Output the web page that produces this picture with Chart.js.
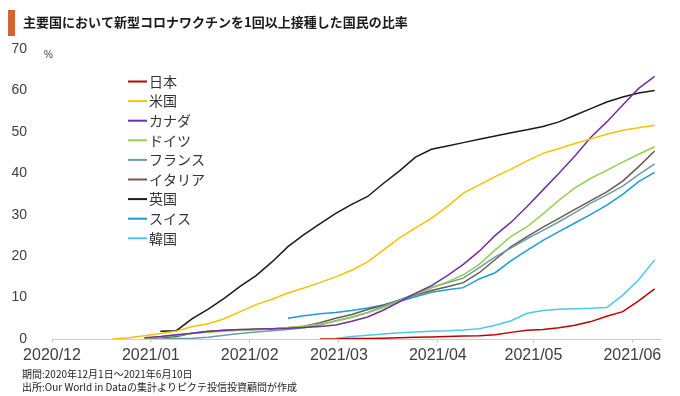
<!DOCTYPE html>
<html>
<head>
  <meta charset="utf-8">
  <title>主要国において新型コロナワクチンを1回以上接種した国民の比率</title>
  <script src="https://cdn.jsdelivr.net/npm/chart.js"></script>
  <style>
    body { margin: 0; background: #fff; }
  </style>
</head>
<body>
  <canvas id="vaccineChart" width="680" height="396"></canvas>
  <script>
    // sample dates (every 5 days) and share of people with at least one dose, %
    const dates = [
      '2020-12-15', '2020-12-20', '2020-12-25', '2020-12-30', '2021-01-04', '2021-01-09',
      '2021-01-14', '2021-01-19', '2021-01-24', '2021-01-29', '2021-02-03', '2021-02-08',
      '2021-02-13', '2021-02-18', '2021-02-23', '2021-02-28', '2021-03-05', '2021-03-10',
      '2021-03-15', '2021-03-20', '2021-03-25', '2021-03-30', '2021-04-04', '2021-04-09',
      '2021-04-14', '2021-04-19', '2021-04-24', '2021-04-29', '2021-05-04', '2021-05-09',
      '2021-05-14', '2021-05-19', '2021-05-24', '2021-05-29', '2021-06-03', '2021-06-08'
    ];
    const japan = [null, null, null, null, null, null, null, null, null, null, null, null, null, null,
      0.0, 0.0, 0.1, 0.15, 0.2, 0.3, 0.4, 0.5, 0.6, 0.7, 0.8, 1.0, 1.6, 2.1, 2.3, 2.7, 3.3, 4.2, 5.5, 6.6, 9.2, 12.1];
    const usa = [null, 0.0, 0.3, 0.8, 1.3, 1.9, 3.0, 3.7, 4.9, 6.6, 8.3, 9.6, 11.1, 12.3, 13.6, 15.0, 16.6, 18.6,
      21.5, 24.4, 26.8, 29.1, 32.0, 35.2, 37.2, 39.2, 41.0, 43.0, 44.8, 46.0, 47.2, 48.3, 49.4, 50.4, 51.0, 51.6];
    const canada = [null, null, null, 0.3, 0.6, 1.0, 1.4, 1.8, 2.1, 2.3, 2.4, 2.5, 2.6, 2.8, 3.0, 3.4, 4.3, 5.3,
      7.0, 9.0, 11.0, 12.9, 15.3, 18.0, 21.2, 25.0, 28.2, 32.0, 36.0, 40.0, 44.2, 48.7, 52.4, 56.5, 60.5, 63.4];
    const germany = [null, null, null, 0.1, 0.5, 0.9, 1.3, 1.6, 1.9, 2.1, 2.3, 2.5, 2.8, 3.1, 3.6, 4.3, 5.2, 6.3,
      7.6, 9.2, 10.8, 12.3, 13.8, 15.5, 18.0, 21.5, 24.8, 27.1, 30.2, 33.5, 36.5, 38.8, 40.7, 42.7, 44.6, 46.4];
    const france = [null, null, null, null, 0.0, 0.1, 0.2, 0.4, 0.9, 1.3, 1.7, 2.0, 2.3, 2.7, 3.4, 4.4, 5.3, 6.4,
      7.9, 9.4, 11.0, 12.5, 13.6, 14.7, 17.2, 19.8, 22.0, 24.2, 26.2, 28.3, 30.5, 32.8, 34.8, 36.9, 39.7, 42.3];
    const italy = [null, null, null, 0.1, 0.3, 0.6, 1.4, 1.9, 2.1, 2.2, 2.3, 2.4, 2.7, 3.1, 3.9, 5.0, 5.9, 7.1,
      8.2, 9.4, 10.6, 11.7, 12.6, 13.6, 16.0, 19.2, 22.3, 24.7, 27.0, 29.1, 31.3, 33.4, 35.5, 38.1, 41.6, 45.4];
    const uk = [null, null, null, null, 1.9, 2.0, 4.9, 7.2, 9.8, 12.7, 15.3, 18.6, 22.3, 25.2, 27.8, 30.3, 32.5, 34.4,
      37.6, 40.6, 43.9, 45.8, 46.6, 47.4, 48.2, 49.0, 49.8, 50.5, 51.3, 52.4, 54.0, 55.6, 57.2, 58.4, 59.4, 60.0];
    const swiss = [null, null, null, null, null, null, null, null, null, null, null, null,
      5.0, 5.6, 6.1, 6.4, 6.9, 7.5, 8.2, 9.1, 10.2, 11.3, 11.9, 12.4, 14.5, 16.0, 18.9, 21.4, 23.8, 25.9,
      28.0, 30.1, 32.3, 34.9, 38.0, 40.2];
    const korea = [null, null, null, null, null, null, null, null, null, null, null, null, null, null, null,
      0.1, 0.6, 0.9, 1.2, 1.5, 1.7, 1.9, 2.0, 2.2, 2.5, 3.3, 4.4, 6.2, 6.9, 7.2, 7.3, 7.4, 7.6, 10.6, 14.3, 19.1];

    const countries = ['日本', '米国', 'カナダ', 'ドイツ', 'フランス', 'イタリア', '英国', 'スイス', '韓国'];
    const seriesList = [japan, usa, canada, germany, france, italy, uk, swiss, korea];
    const colors = ['#c00000', '#ffc000', '#7030a0', '#92d050', '#6d99b3', '#6b5a4c', '#1a1a1a', '#1e9ad9', '#4cc9e4'];

    const monthStarts = ['2020-12-01', '2021-01-01', '2021-02-01', '2021-03-01', '2021-04-01', '2021-05-01', '2021-06-01'];
    const monthLabels = ['2020/12', '2021/01', '2021/02', '2021/03', '2021/04', '2021/05', '2021/06'];
    const periodEnd = '2021-06-10';

    const dayOf = s => (Date.parse(s) - Date.parse(monthStarts[0])) / 86400000;
    const days = dates.map(dayOf);
    const monthDays = monthStarts.map(dayOf);

    const datasets = seriesList.map((vals, i) => ({
      label: countries[i],
      data: vals.map((v, j) => ({ x: days[j], y: v })),
      borderColor: colors[i],
      backgroundColor: colors[i],
      borderWidth: 1.5,
      pointRadius: 0,
      tension: 0,
      spanGaps: false
    }));

    const decor = {
      id: 'decor',
      afterDraw(chart) {
        const ctx = chart.ctx;
        ctx.save();
        // title
        ctx.fillStyle = '#d4652f';
        ctx.fillRect(8, 10, 7, 26);
        ctx.fillStyle = '#1a1a1a';
        ctx.font = 'bold 13px "Noto Sans CJK JP"';
        ctx.textBaseline = 'middle';
        ctx.textAlign = 'left';
        ctx.fillText('主要国において新型コロナワクチンを1回以上接種した国民の比率', 23, 22);
        // unit
        ctx.fillStyle = '#404040';
        ctx.font = '10px "Liberation Sans"';
        ctx.fillText('%', 44, 55);
        // legend
        ctx.font = '14px "Noto Sans CJK JP"';
        chart.data.datasets.forEach((ds, i) => {
          const y = 81.5 + i * 19.6;
          ctx.strokeStyle = ds.borderColor;
          ctx.lineWidth = 2;
          ctx.beginPath();
          ctx.moveTo(128, y);
          ctx.lineTo(147, y);
          ctx.stroke();
          ctx.fillStyle = '#333';
          ctx.fillText(ds.label, 149, y);
        });
        // notes
        ctx.fillStyle = '#222';
        ctx.font = '10px "Noto Sans CJK JP"';
        ctx.fillText('期間:2020年12月1日～2021年6月10日', 22, 374);
        ctx.fillText('出所:Our World in Dataの集計よりピクテ投信投資顧問が作成', 22, 387);
        ctx.restore();
      }
    };

    new Chart(document.getElementById('vaccineChart').getContext('2d'), {
      type: 'line',
      data: { datasets },
      plugins: [decor],
      options: {
        responsive: false,
        animation: false,
        layout: { padding: { left: 0, right: 19, top: 49, bottom: 27 } },
        plugins: { legend: { display: false }, tooltip: { enabled: false } },
        scales: {
          x: {
            type: 'linear',
            min: 0,
            max: dayOf(periodEnd),
            afterBuildTicks: s => { s.ticks = monthDays.map(v => ({ value: v })); },
            afterFit: s => { s.height = 30; },
            ticks: {
              callback: (v, i) => monthLabels[i],
              color: '#404040',
              font: { family: 'Liberation Sans', size: 16 },
              padding: 3,
              maxRotation: 0,
              autoSkip: false
            },
            grid: { display: true, drawOnChartArea: false, drawTicks: true, tickLength: 4, color: '#cccccc' },
            border: { display: true, color: '#cccccc', width: 1 }
          },
          y: {
            min: 0,
            max: 70,
            afterFit: s => { s.width = 52; },
            ticks: {
              stepSize: 10,
              padding: 17,
              color: '#404040',
              font: { family: 'Liberation Sans', size: 14 }
            },
            grid: { display: false },
            border: { display: false }
          }
        }
      }
    });
  </script>
</body>
</html>
